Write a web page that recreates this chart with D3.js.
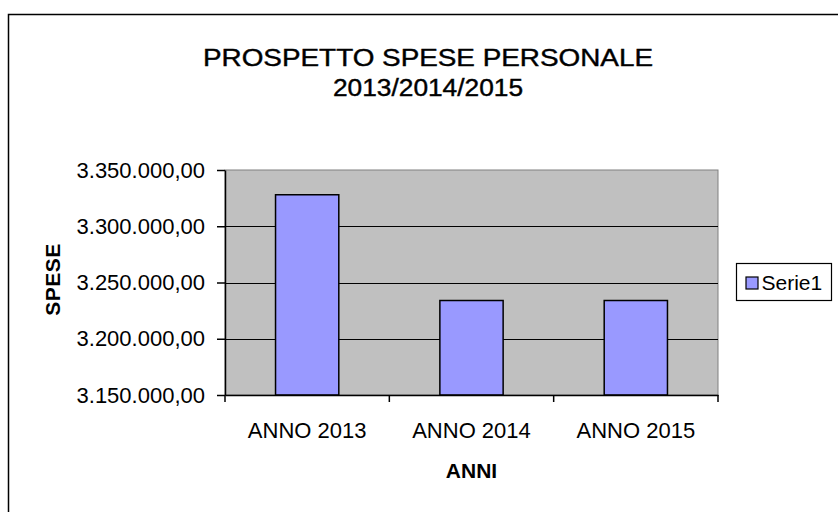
<!DOCTYPE html>
<html>
<head>
<meta charset="utf-8">
<script src="https://cdn.jsdelivr.net/npm/d3@7"></script>
<style>
body { margin: 0; background: #fff; }
text { font-family: "Liberation Sans", Arial, sans-serif; fill: #000; }
</style>
</head>
<body>
<svg id="chart" width="838" height="512"></svg>
<script>
// dati
var categories = ["ANNO 2013", "ANNO 2014", "ANNO 2015"];
var spese = [3328000, 3234000, 3234000];
var yTicks = [3150000, 3200000, 3250000, 3300000, 3350000];
var titleLines = ["PROSPETTO SPESE PERSONALE", "2013/2014/2015"];
var seriesName = "Serie1";

var w = 838, h = 512;
var plot = {left: 225, top: 170, right: 718, bottom: 395};

var it = d3.formatLocale({decimal: ",", thousands: ".", grouping: [3], currency: ["€", ""]});
var fmt = it.format(",.2f");

var svg = d3.select("#chart");

// cornice esterna (tagliata a destra e in basso)
svg.append("rect")
	.attr("x", 8.5).attr("y", 14.5)
	.attr("width", 900).attr("height", 600)
	.attr("fill", "#fff")
	.attr("stroke", "#000")
	.attr("stroke-width", 1.5);

var x = d3.scaleBand()
	.domain(categories)
	.range([plot.left, plot.right])
	.paddingInner(0.615)
	.paddingOuter(0.3075);

var y = d3.scaleLinear()
	.domain([yTicks[0], yTicks[yTicks.length - 1]])
	.range([plot.bottom, plot.top]);

// area del grafico
svg.append("rect")
	.attr("x", plot.left).attr("y", plot.top)
	.attr("width", plot.right - plot.left)
	.attr("height", plot.bottom - plot.top)
	.attr("fill", "#c0c0c0")
	.attr("stroke", "#808080")
	.attr("stroke-width", 1);

// griglia
svg.append("g")
	.selectAll("line")
	.data(yTicks.slice(1, -1))
	.join("line")
	.attr("x1", plot.left).attr("x2", plot.right)
	.attr("y1", function(d) { return Math.round(y(d)) + 0.5; })
	.attr("y2", function(d) { return Math.round(y(d)) + 0.5; })
	.attr("stroke", "#000")
	.attr("stroke-width", 1.2);

// barre
svg.append("g")
	.selectAll("rect")
	.data(spese)
	.join("rect")
	.attr("x", function(d, i) { return x(categories[i]); })
	.attr("y", function(d) { return y(d); })
	.attr("width", x.bandwidth())
	.attr("height", function(d) { return y(yTicks[0]) - y(d); })
	.attr("fill", "#9999ff")
	.attr("stroke", "#000")
	.attr("stroke-width", 1.5);

// asse y
var yAxis = svg.append("g")
	.attr("transform", "translate(" + plot.left + ",0)")
	.call(d3.axisLeft(y).tickValues(yTicks).tickFormat(fmt).tickSize(8).tickSizeOuter(0).tickPadding(12));
yAxis.select(".domain").attr("stroke", "#000").attr("stroke-width", 1.5);
yAxis.selectAll(".tick line").attr("stroke", "#000").attr("stroke-width", 1.5);
yAxis.selectAll("text").attr("font-size", "22px").attr("font-family", null).attr("fill", "#111");

// asse x
var xAxis = svg.append("g")
	.attr("transform", "translate(0," + plot.bottom + ")")
	.call(d3.axisBottom(x).tickSize(0).tickPadding(27));
xAxis.select(".domain").attr("stroke", "#000").attr("stroke-width", 1.5);
xAxis.selectAll("text").attr("font-size", "22px").attr("font-family", null).attr("fill", "#111");

var bounds = categories.map(function(c) { return x(c) - x.step() * x.paddingInner() / 2; });
bounds.push(plot.right);
xAxis.selectAll(".bound")
	.data(bounds)
	.join("line")
	.attr("class", "bound")
	.attr("x1", function(d) { return d; }).attr("x2", function(d) { return d; })
	.attr("y1", 0).attr("y2", 7)
	.attr("stroke", "#000")
	.attr("stroke-width", 1.5);

// titolo
var title = svg.append("g");
title.selectAll("text")
	.data(titleLines)
	.join("text")
	.attr("x", 428)
	.attr("y", function(d, i) { return 66 + i * 30; })
	.attr("text-anchor", "middle")
	.attr("font-size", "23px")
	.attr("stroke", "#000")
	.attr("stroke-width", 0.4)
	.attr("textLength", function(d, i) { return i == 0 ? 450 : 190; })
	.attr("lengthAdjust", "spacingAndGlyphs")
	.text(function(d) { return d; });

// titoli assi
svg.append("text")
	.attr("transform", "translate(60," + ((plot.top + plot.bottom) / 2 - 3) + ") rotate(-90)")
	.attr("text-anchor", "middle")
	.attr("font-size", "21px")
	.attr("font-weight", "bold")
	.attr("letter-spacing", "0.5px")
	.text("SPESE");

svg.append("text")
	.attr("x", (plot.left + plot.right) / 2)
	.attr("y", 478)
	.attr("text-anchor", "middle")
	.attr("font-size", "21px")
	.attr("font-weight", "bold")
	.text("ANNI");

// legenda
var legend = svg.append("g").attr("transform", "translate(736.5,263.5)");
legend.append("rect")
	.attr("width", 95).attr("height", 37)
	.attr("fill", "#fff")
	.attr("stroke", "#000")
	.attr("stroke-width", 1.2);
legend.append("rect")
	.attr("x", 9.5).attr("y", 13.5)
	.attr("width", 12).attr("height", 12)
	.attr("fill", "#9999ff")
	.attr("stroke", "#000")
	.attr("stroke-width", 1.2);
legend.append("text")
	.attr("x", 25).attr("y", 26.5)
	.attr("font-size", "21px")
	.text(seriesName);
</script>
</body>
</html>
